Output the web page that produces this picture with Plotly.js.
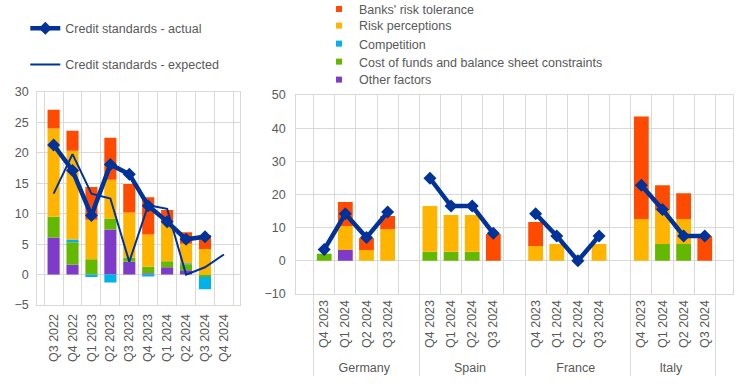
<!DOCTYPE html>
<html><head><meta charset="utf-8">
<script src="https://cdn.plot.ly/plotly-3.0.1.min.js"></script>
<style>html,body{margin:0;padding:0;background:#fff}</style>
</head><body><div id="chart" style="width:744px;height:384px"></div>
<script>
// ---------- Left panel: euro area ----------
const leftQuarters = ["Q3 2022","Q4 2022","Q1 2023","Q2 2023","Q3 2023","Q4 2023","Q1 2024","Q2 2024","Q3 2024","Q4 2024"];
const leftOther       = [6.1, 1.6, null, 7.4, 2.1, 0.2, 1.2, 0.7, null, null];
const leftCost        = [3.4, 3.7, 2.5, 1.8, 0.7, 1.1, 1.0, 1.0, -0.4, null];
const leftCompetition = [null, 0.45, -0.4, -1.3, null, -0.3, null, 0.15, -2.0, null];
const leftRiskPerc    = [14.5, 14.6, 6.5, 6.4, 7.4, 5.3, 6.5, 3.2, 4.2, null];
const leftRiskTol     = [3.1, 3.3, 5.4, 6.9, 4.7, 6.1, 1.9, 1.9, 2.3, null];
const leftActual      = [21.3, 17.1, 9.7, 18.1, 16.5, 11.3, 8.7, 5.8, 6.2, null];
const leftExpected    = [13.3, 19.8, 13.3, 12.5, 2.1, 11.4, 10.8, 0.0, 1.2, 3.3];

// ---------- Right panel: countries (Germany, Spain, France, Italy x 4 quarters) ----------
const countries = ["Germany","Spain","France","Italy"];
const rightQuarters = ["Q4 2023","Q1 2024","Q2 2024","Q3 2024"];
const rightOther       = [null,3.3,null,null,  null,null,null,null,  null,null,null,null,  null,null,null,null];
const rightCost        = [2.1,null,null,null,  2.7,2.7,2.7,null,     null,null,null,null,  null,5.1,5.1,null];
const rightCompetition = [null,null,null,null, null,null,null,null,  null,null,null,null,  null,null,null,null];
const rightRiskPerc    = [null,7.2,3.3,9.6,    13.8,11.1,11.1,null,  4.5,5.1,null,5.1,     12.6,10.2,7.5,null];
const rightRiskTol     = [null,7.2,3.6,3.9,    null,null,null,8.1,   7.2,null,null,null,   30.9,7.5,7.8,7.5];
const rightActual      = [3.4,14.2,7.0,14.7,   24.9,16.5,16.5,8.3,   14.2,7.5,0.0,7.5,     22.8,15.5,7.5,7.5];

const factorNames  = ["Other factors","Cost of funds and balance sheet constraints","Competition","Risk perceptions","Banks' risk tolerance"];
const factorColors = ["#7E3AC8","#65B800","#00B1EA","#FFB400","#FF4B00"];
const lineColor = "#003299";

// build multicategory x with a blank slot after each country (except last)
const rx0 = [], rx1 = [];
function expand(vals){
  const out = [];
  countries.forEach((c, ci) => {
    rightQuarters.forEach((q, qi) => { out.push(vals[ci*4+qi]); });
    if (ci < countries.length - 1) out.push(null);
  });
  return out;
}
countries.forEach((c, ci) => {
  rightQuarters.forEach(q => { rx0.push(c); rx1.push(q); });
  if (ci < countries.length - 1) { rx0.push(c); rx1.push(" "); }
});
const rx = [rx0, rx1];

const leftFactors  = [leftOther, leftCost, leftCompetition, leftRiskPerc, leftRiskTol];
const rightFactors = [rightOther, rightCost, rightCompetition, rightRiskPerc, rightRiskTol];

const traces = [];
leftFactors.forEach((vals, i) => {
  traces.push({type:'bar', x:leftQuarters, y:vals, xaxis:'x', yaxis:'y', width:0.64,
    marker:{color:factorColors[i]}, showlegend:false, hoverinfo:'skip', name:factorNames[i]});
});
rightFactors.forEach((vals, i) => {
  traces.push({type:'bar', x:rx, y:expand(vals), xaxis:'x2', yaxis:'y2', width:0.7,
    marker:{color:factorColors[i]}, showlegend:false, hoverinfo:'skip', name:factorNames[i]});
});
traces.push({type:'scatter', mode:'lines', x:leftQuarters, y:leftExpected, xaxis:'x', yaxis:'y',
  line:{color:lineColor, width:2}, name:'Credit standards - expected', legend:'legend', legendgroup:'b', legendrank:2});
traces.push({type:'scatter', mode:'lines+markers', x:leftQuarters, y:leftActual, xaxis:'x', yaxis:'y',
  line:{color:lineColor, width:4.5}, marker:{symbol:'diamond', size:10, color:lineColor},
  name:'Credit standards - actual', legend:'legend', legendgroup:'a', legendrank:1});
traces.push({type:'scatter', mode:'lines+markers', x:rx, y:expand(rightActual), xaxis:'x2', yaxis:'y2',
  line:{color:lineColor, width:4.5}, marker:{symbol:'diamond', size:10, color:lineColor},
  connectgaps:false, showlegend:false, name:'Credit standards - actual'});

// legend entries for factors, one small legend per row (top to bottom)
const legendRowsY = [0.9758, 0.9323, 0.8854, 0.8385, 0.7917];
const factorLegends = {};
for (let k = 0; k < factorNames.length; k++) {
  const i = factorNames.length - 1 - k;
  const lname = 'legend' + (k + 2);
  traces.push({type:'scatter', mode:'markers', x:[null], y:[null], xaxis:'x2', yaxis:'y2',
    marker:{symbol:'square', size:6, color:factorColors[i]}, name:factorNames[i], legend:lname});
  factorLegends[lname] = {x:0.4288, y:legendRowsY[k], xanchor:'left', yanchor:'middle',
    bgcolor:'rgba(0,0,0,0)', font:{size:12.5, color:'#595959'}};
}

const grid = '#d9d9d9';
const tickfont = {family:'Arial, Liberation Sans, sans-serif', size:12.5, color:'#595959'};
const layout = Object.assign({
  width:744, height:384, margin:{l:0,r:0,t:0,b:0,autoexpand:false},
  paper_bgcolor:'#fff', plot_bgcolor:'#fff',
  font:{family:'Arial, Liberation Sans, sans-serif', size:12, color:'#595959'},
  barmode:'relative',
  xaxis:{domain:[0.05,0.323], type:'category', categoryorder:'array', categoryarray:leftQuarters,
    tickson:'boundaries', showgrid:true, gridcolor:grid, ticks:'', tickangle:-90, tickfont:tickfont,
    ticklabelstandoff:3, showline:true, linecolor:grid, mirror:true, anchor:'y', automargin:false},
  yaxis:{domain:[0.2057,0.7604], range:[-5,30], dtick:5, showgrid:true, gridcolor:grid, zeroline:false,
    showline:true, linecolor:grid, mirror:true, ticks:'', tickfont:tickfont, ticklabelstandoff:5, anchor:'x', automargin:false},
  xaxis2:{domain:[0.398,0.985], type:'multicategory', tickson:'boundaries', showgrid:true, gridcolor:grid,
    ticks:'', tickangle:-90, tickfont:tickfont, showdividers:true, dividercolor:grid, dividerwidth:1,
    showline:true, linecolor:grid, mirror:true, anchor:'y2', automargin:false},
  yaxis2:{domain:[0.2344,0.7526], range:[-10,50], dtick:10, showgrid:true, gridcolor:grid, zeroline:false,
    showline:true, linecolor:grid, mirror:true, ticks:'', tickfont:tickfont, ticklabelstandoff:7, anchor:'x2', automargin:false},
  legend:{x:0.034, y:0.9646, xanchor:'left', yanchor:'top', traceorder:'grouped', tracegroupgap:17,
    bgcolor:'rgba(0,0,0,0)', font:{size:12.5, color:'#595959'}}
}, factorLegends);
Plotly.newPlot('chart', traces, layout, {displayModeBar:false, staticPlot:true});
</script></body></html>
